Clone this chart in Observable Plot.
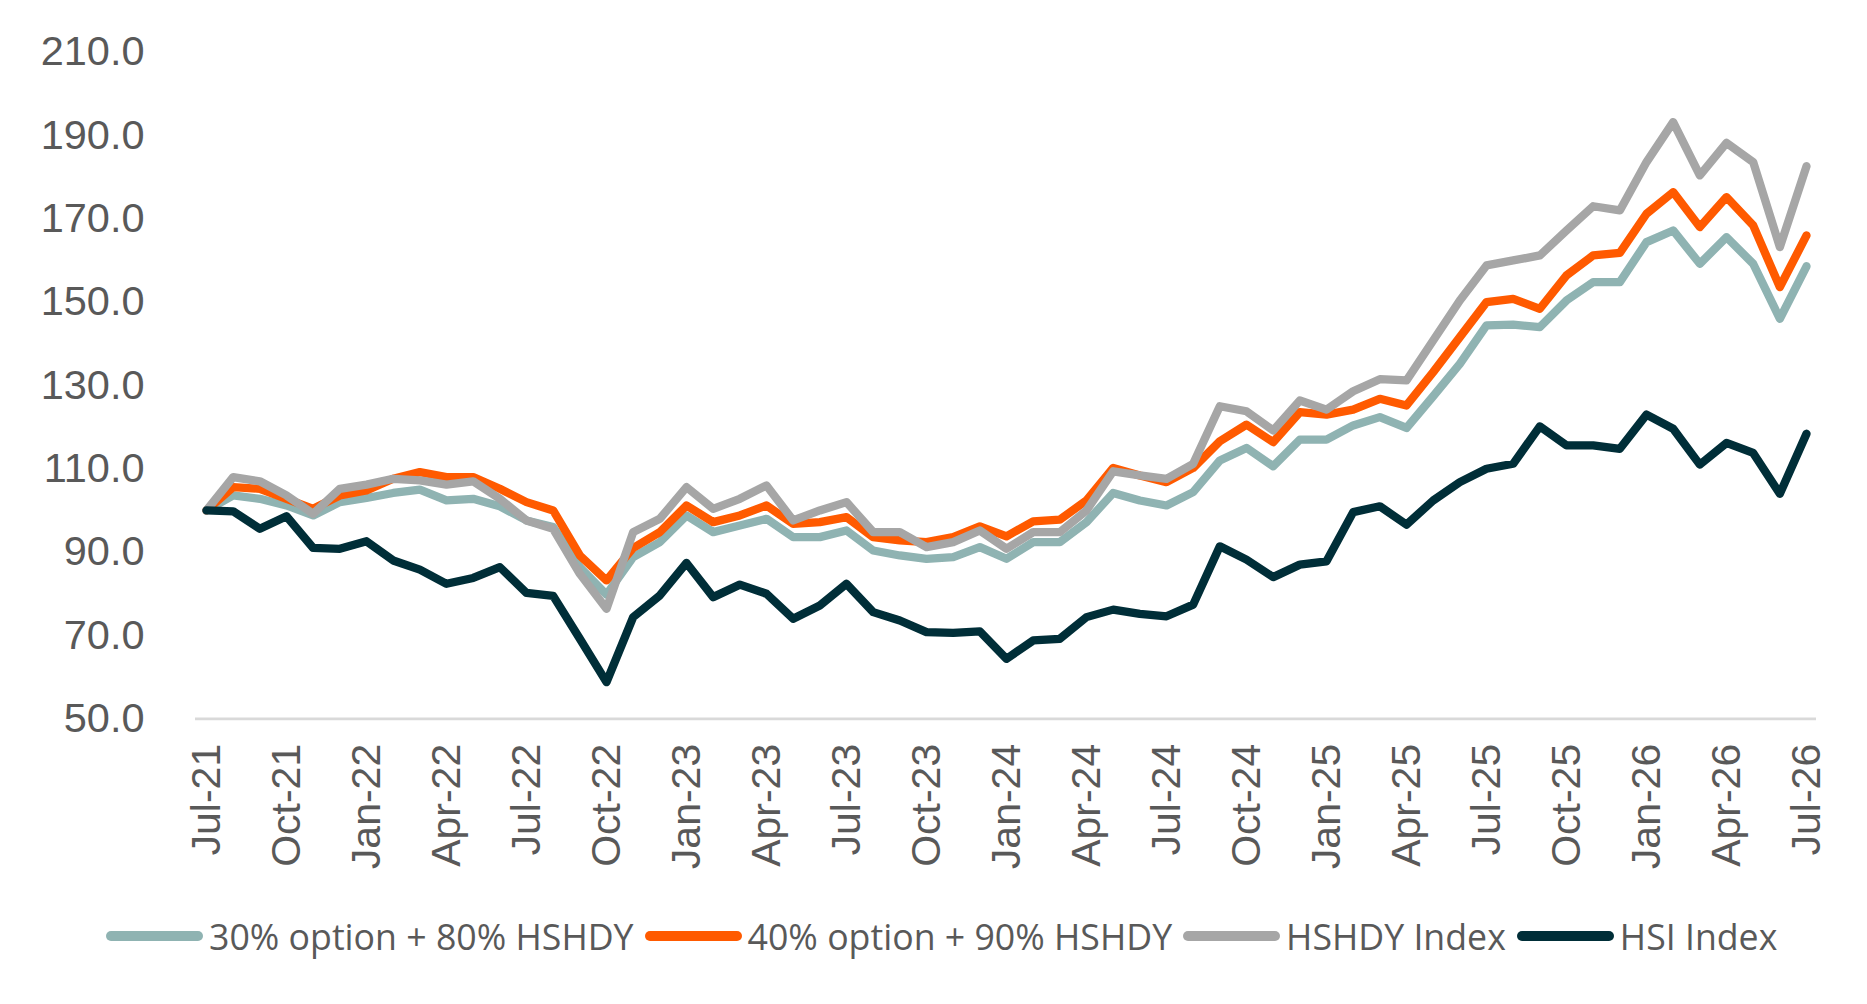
<!DOCTYPE html>
<html>
<head>
<meta charset="utf-8">
<script src="https://cdn.jsdelivr.net/npm/d3@7"></script>
<script src="https://cdn.jsdelivr.net/npm/@observablehq/plot@0.6"></script>
<style>
  html, body { margin: 0; padding: 0; background: #ffffff; }
  #wrap { position: relative; width: 1867px; height: 1004px; }
  #legend {
    position: absolute; left: 106px; top: 912px; height: 48px;
    display: flex; align-items: center;
    font-family: "Open Sans", "Noto Sans", sans-serif; font-size: 35.7px; color: #595959;
    white-space: nowrap;
  }
  .item { display: flex; align-items: center; margin-right: 11px; }
  .sw { width: 97px; height: 10px; border-radius: 5px; margin-right: 6px; }
</style>
</head>
<body>
<div id="wrap">
  <div id="chart"></div>
  <div id="legend"></div>
</div>
<script>
// Series names and colours
const seriesNames = ["30% option + 80% HSHDY", "40% option + 90% HSHDY", "HSHDY Index", "HSI Index"];
const seriesColors = ["#8FB3B2", "#FF5A00", "#A6A6A6", "#002E38"];

// X tick labels (every 3 months, Jul-21 .. Jul-26), monthly observations index 0..60
const tickLabels = ["Jul-21","Oct-21","Jan-22","Apr-22","Jul-22","Oct-22","Jan-23","Apr-23","Jul-23","Oct-23",
  "Jan-24","Apr-24","Jul-24","Oct-24","Jan-25","Apr-25","Jul-25","Oct-25","Jan-26","Apr-26","Jul-26"];
const yTicks = [50, 70, 90, 110, 130, 150, 170, 190, 210];

const opt30 = [100,103.6,102.8,101.2,98.8,102,103,104.2,105,102.4,102.8,101,97.6,96,86.4,79.8,
  88.8,92.4,98.8,94.8,96.4,98,93.6,93.6,95.2,90.4,89.2,88.4,88.8,91.2,88.4,92.4,92.4,97.2,
  104.2,102.4,101.2,104.4,112,115,110.6,117,117,120.4,122.4,119.8,127.4,135.2,144.4,144.6,
  144,150.4,154.8,154.8,164.4,167.2,159.2,165.6,159.2,146,158.6];
const opt40 = [100,105.6,105.2,102.8,100.4,103.6,104.8,107.6,109.2,108,108,105.2,102,100,89.2,83.2,
  91,94.8,101.2,97.2,98.8,101.2,96.8,97.2,98.4,93.6,92.8,92.4,93.6,96.2,93.8,97.4,97.8,102.4,
  110.2,108.4,106.8,110.2,116.6,120.6,116.4,123.6,123,124.2,126.8,125.2,133.2,141.6,150,150.8,
  148.4,156.4,161.2,161.8,171.2,176.4,168,175.2,168.4,153.6,166];
const hshdy = [100,108,107,103.6,99.2,105.2,106.2,107.6,107.2,106.2,107,102.8,97.6,95.6,84.8,76.4,
  94.8,98,105.6,100.4,102.8,106,97.6,100,102,94.8,94.8,91.2,92.4,95.2,90.8,94.8,94.8,100,
  109.4,108.4,107.6,111.2,125,123.8,119.2,126.4,124.2,128.6,131.5,131.2,140.8,150.4,158.8,160,
  161.2,167.2,173,172,183.6,193.2,180.4,188.2,183.6,163.2,182.6];
const hsi = [100,99.8,95.6,98.6,91,90.8,92.6,88,85.8,82.4,83.8,86.4,80.2,79.5,69.2,58.8,
  74.4,79.6,87.4,79.2,82.2,80,74,77.2,82.4,75.6,73.6,70.8,70.6,71,64.4,68.8,69.2,74.4,
  76.2,75.2,74.6,77.4,91.4,88.2,84,87,87.8,99.6,101,96.6,102.4,106.8,110,111.2,
  120.2,115.6,115.6,114.8,123,119.6,111,116.2,113.8,104,118.4];

const allSeries = [opt30, opt40, hshdy, hsi];
const rows = allSeries.flatMap((vals, s) => vals.map((v, i) => ({i, v, s: seriesNames[s]})));

const W = 1867, H = 880;
const chart = Plot.plot({
  width: W, height: H,
  marginLeft: 195, marginRight: 51, marginTop: 51.6, marginBottom: H - 718.3,
  style: {background: "white", fontFamily: "'Liberation Sans', Arial, sans-serif", color: "#595959"},
  x: {domain: [0, 60], insetLeft: 11, insetRight: 10},
  y: {domain: [50, 210]},
  color: {domain: seriesNames, range: seriesColors},
  marks: [
    Plot.ruleY([50], {stroke: "#D9D9D9", strokeWidth: 2.7}),
    Plot.axisY({ticks: yTicks, tickFormat: d3.format(".1f"), tickSize: 0, tickPadding: 51, fontSize: 41.5, fill: "#595959", label: null}),
    Plot.axisX({ticks: d3.range(0, 61, 3), tickFormat: (d) => tickLabels[d / 3], tickSize: 0, tickPadding: 25,
      tickRotate: -90, fontSize: 41, fill: "#595959", label: null}),
    ...seriesNames.map((name) => Plot.line(rows.filter(r => r.s === name), {
      x: "i", y: "v", stroke: "s", strokeWidth: 8.3, strokeLinejoin: "round", strokeLinecap: "round"
    }))
  ]
});
document.getElementById("chart").appendChild(chart);

const legend = document.getElementById("legend");
seriesNames.forEach((name, k) => {
  const item = document.createElement("div");
  item.className = "item";
  const sw = document.createElement("div");
  sw.className = "sw";
  sw.style.background = seriesColors[k];
  const tx = document.createElement("span");
  tx.textContent = name;
  item.appendChild(sw);
  item.appendChild(tx);
  legend.appendChild(item);
});
</script>
</body>
</html>
